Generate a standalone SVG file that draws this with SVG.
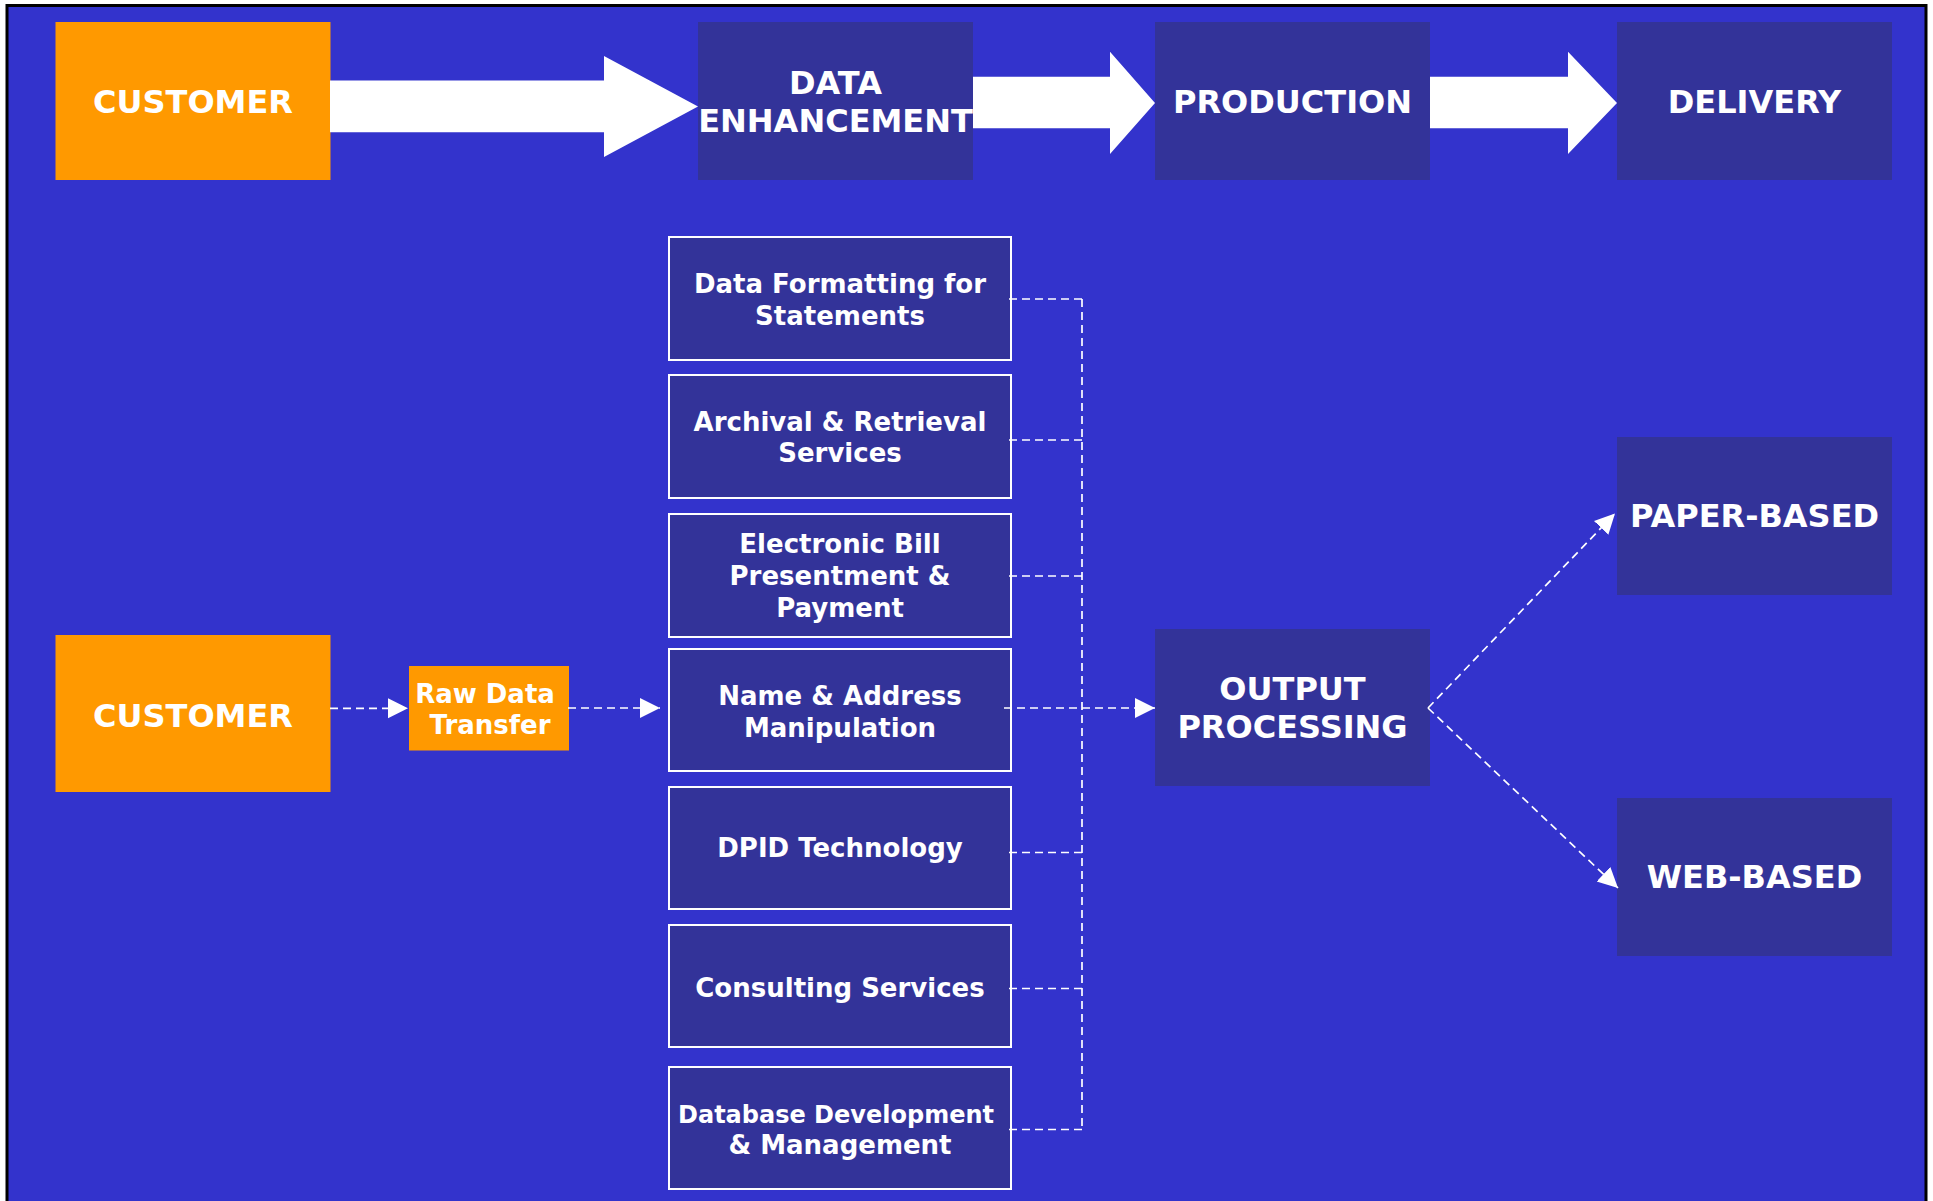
<svg xmlns="http://www.w3.org/2000/svg" width="1933" height="1201" viewBox="0 0 1933 1201">
  <defs>
    <marker id="head" markerUnits="userSpaceOnUse" markerWidth="21" markerHeight="21" refX="20" refY="10" orient="auto">
      <path d="M0,0 L20,10 L0,20 Z" fill="#FFFFFF"/>
    </marker>
    <style>
      .t { font-family: "DejaVu Sans", Verdana, sans-serif; font-weight: bold; fill: #FFFFFF; text-anchor: middle; }
      .big { font-size: 32px; }
      .svc { font-size: 26px; }
      .small { font-size: 24px; }
      .stage { fill: #333399; }
      .cust { fill: #FF9900; }
      .box { fill: #333399; stroke: #FFFFFF; stroke-width: 2; }
      .dash { fill: none; stroke: #FFFFFF; stroke-width: 1.7; stroke-dasharray: 8 5; }
      .block { fill: #FFFFFF; }
    </style>
  </defs>

  <!-- page background and frame -->
  <rect x="0" y="0" width="1933" height="1201" fill="#FFFFFF"/>
  <rect x="7" y="5.5" width="1919" height="1210" fill="#3333CC" stroke="#000000" stroke-width="3"/>

  <!-- top row: stage flow -->
  <g id="customer-top">
    <rect class="cust" x="55.5" y="22" width="275" height="158"/>
    <text class="t big" x="193" y="113.3">CUSTOMER</text>
  </g>
  <g id="data-enhancement">
    <rect class="stage" x="698" y="22" width="275" height="158"/>
    <text class="t big" x="835.5" y="94">DATA</text>
    <text class="t big" x="835.5" y="131.7">ENHANCEMENT</text>
  </g>
  <g id="production">
    <rect class="stage" x="1155" y="22" width="275" height="158"/>
    <text class="t big" x="1292.5" y="113.3">PRODUCTION</text>
  </g>
  <g id="delivery">
    <rect class="stage" x="1617" y="22" width="275" height="158"/>
    <text class="t big" x="1754.5" y="113.3">DELIVERY</text>
  </g>

  <!-- block arrows between stages -->
  <g id="stage-arrows">
    <polygon class="block" points="330,80.5 604,80.5 604,56 698,106.5 604,157 604,132.3 330,132.3"/>
    <polygon class="block" points="973,76.7 1110,76.7 1110,51.7 1155,103 1110,154 1110,128.3 973,128.3"/>
    <polygon class="block" points="1430,76.7 1568,76.7 1568,51.7 1617,103 1568,154 1568,128.3 1430,128.3"/>
  </g>

  <!-- lower section: customer data intake -->
  <g id="customer">
    <rect class="cust" x="55.5" y="635" width="275" height="157"/>
    <text class="t big" x="193" y="726.7">CUSTOMER</text>
  </g>
  <g id="raw-data-transfer">
    <rect class="cust" x="409" y="666" width="160" height="84.5"/>
    <text class="t svc" x="485" y="702.7">Raw Data</text>
    <text class="t svc" x="490" y="734.3">Transfer</text>
  </g>

  <!-- data enhancement services -->
  <g id="svc-formatting">
    <rect class="box" x="669" y="237" width="342" height="123"/>
    <text class="t svc" x="840" y="292.5">Data Formatting for</text>
    <text class="t svc" x="840" y="324.5">Statements</text>
  </g>
  <g id="svc-archival">
    <rect class="box" x="669" y="375" width="342" height="123"/>
    <text class="t svc" x="840" y="430.7">Archival &amp; Retrieval</text>
    <text class="t svc" x="840" y="462.3">Services</text>
  </g>
  <g id="svc-ebpp">
    <rect class="box" x="669" y="514" width="342" height="123"/>
    <text class="t svc" x="840" y="553.3">Electronic Bill</text>
    <text class="t svc" x="840" y="585">Presentment &amp;</text>
    <text class="t svc" x="840" y="616.7">Payment</text>
  </g>
  <g id="svc-name-address">
    <rect class="box" x="669" y="649" width="342" height="122"/>
    <text class="t svc" x="840" y="704.5">Name &amp; Address</text>
    <text class="t svc" x="840" y="736.7">Manipulation</text>
  </g>
  <g id="svc-dpid">
    <rect class="box" x="669" y="787" width="342" height="122"/>
    <text class="t svc" x="840" y="857">DPID Technology</text>
  </g>
  <g id="svc-consulting">
    <rect class="box" x="669" y="925" width="342" height="122"/>
    <text class="t svc" x="840" y="997">Consulting Services</text>
  </g>
  <g id="svc-database">
    <rect class="box" x="669" y="1067" width="342" height="122"/>
    <text class="t small" x="836" y="1122.8">Database Development</text>
    <text class="t svc" x="840" y="1153.5">&amp; Management</text>
  </g>

  <!-- output stage -->
  <g id="output-processing">
    <rect class="stage" x="1155" y="629" width="275" height="157"/>
    <text class="t big" x="1292.5" y="700.4">OUTPUT</text>
    <text class="t big" x="1292.5" y="737.9">PROCESSING</text>
  </g>
  <g id="paper-based">
    <rect class="stage" x="1617" y="437" width="275" height="158"/>
    <text class="t big" x="1754.5" y="527">PAPER-BASED</text>
  </g>
  <g id="web-based">
    <rect class="stage" x="1617" y="798" width="275" height="158"/>
    <text class="t big" x="1754.5" y="888">WEB-BASED</text>
  </g>

  <!-- dashed connectors -->
  <g id="connectors">
    <path class="dash" d="M330,708.3 H408" marker-end="url(#head)"/>
    <path class="dash" d="M568,708 H660" marker-end="url(#head)"/>
    <path class="dash" d="M1082,299 V1129.5"/>
    <path class="dash" d="M1009,299 H1082"/>
    <path class="dash" d="M1009,440 H1082"/>
    <path class="dash" d="M1009,576 H1082"/>
    <path class="dash" d="M1009,852.5 H1082"/>
    <path class="dash" d="M1009,988.5 H1082"/>
    <path class="dash" d="M1009,1129.5 H1082"/>
    <path class="dash" d="M1004,708 H1155" marker-end="url(#head)"/>
    <path class="dash" d="M1428,708 L1615,513.5" marker-end="url(#head)"/>
    <path class="dash" d="M1428,708 L1618,888" marker-end="url(#head)"/>
  </g>
</svg>
